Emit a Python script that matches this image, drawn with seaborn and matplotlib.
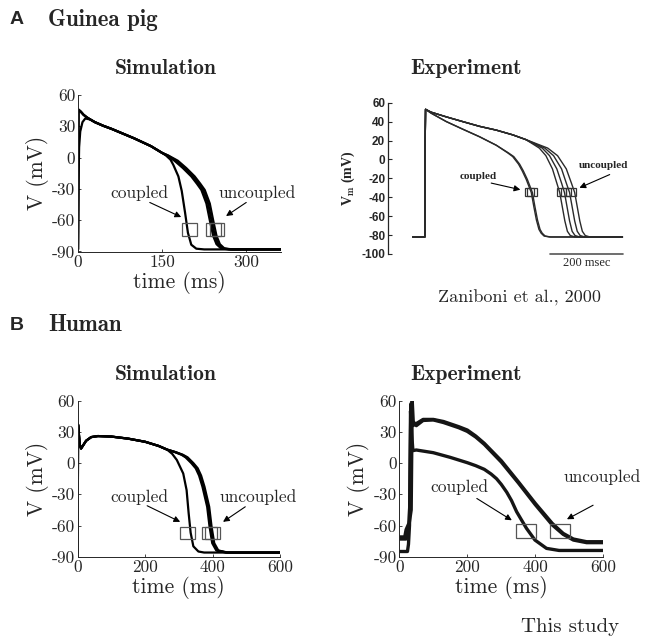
import numpy as np
import pandas as pd
import matplotlib
matplotlib.use("Agg")
import matplotlib.pyplot as plt
from matplotlib.patches import Rectangle
import seaborn as sns

sns.set_theme(style="ticks")
plt.rcParams["font.family"] = ["cmr10", "DejaVu Serif"]
plt.rcParams["axes.unicode_minus"] = False
plt.rcParams["mathtext.fontset"] = "cm"

# ---------------- data ----------------
# A, guinea pig simulation (ms, mV)
gp_sim_plateau_t = [22, 30, 45, 60, 80, 100, 130, 150]
gp_sim_plateau_v = [36.5, 34, 30.5, 27.5, 23, 18.5, 11, 4.5]
gp_sim_c_up_t = [0, 1, 2, 4, 8, 13]
gp_sim_c_up_v = [-88, -20, 10, 25, 34, 37.5]
gp_sim_u_up_t = [0, 0.8, 5, 10, 16]
gp_sim_u_up_v = [-88, 46, 44, 41, 38.5]
gp_sim_c_tail_t = [157, 165, 170, 179, 185, 191, 196, 202, 211, 225, 362]
gp_sim_c_tail_v = [2, -2, -7, -18, -32, -53, -72, -83.5, -87.3, -88, -88]
gp_sim_u_tail_v = [2, -3, -10, -18, -25, -31, -44, -60, -75, -83, -87, -88, -88]
gp_sim_u1_tail_t = [159, 172, 187, 202, 212, 220, 229, 235, 241, 247, 255, 269, 362]
gp_sim_u2_tail_t = [160, 175, 190, 205, 215, 223, 232, 238, 244, 250, 258, 272, 362]
gp_sim_u3_tail_t = [161, 178, 193, 208, 218, 226, 235, 241, 247, 253, 261, 275, 362]
gp_sim_box_c = [199]
gp_sim_box_u = [242, 248]
gp_sim_box_v = -69

# A, guinea pig experiment (Zaniboni et al.), ms from trace start
gp_exp_c_v = [-82, -82, 20, 53, 49, 40, 32, 24, 15, 7, 3, -5, -12, -21, -28, -35,
              -50, -64, -74, -78, -81, -82, -82]
gp_exp_c1_t = [0, 33, 34, 35, 50, 92, 137, 183, 229, 260, 274, 290, 300, 311, 318,
               325, 332, 339, 346, 352, 360, 375, 575]
gp_exp_c2_t = [0, 33, 34, 35, 50, 92, 137, 183, 229, 262, 277, 293, 303, 314, 321,
               328, 335, 342, 349, 355, 363, 378, 575]
gp_exp_u_plateau_t = [0, 33, 34, 35, 50, 92, 137, 183, 229, 274, 310]
gp_exp_u_plateau_v = [-82, -82, 20, 53, 50, 45, 40, 35, 31, 26, 21]
gp_exp_u_tail_v = [12, 4, -10, -25, -35, -50, -65, -76, -80.5, -82, -82]
gp_exp_u1_tail_t = [347, 365, 383, 395, 403, 410, 417, 424, 432, 445, 575]
gp_exp_u2_tail_t = [355, 375, 395, 408, 416, 423, 430, 437, 445, 458, 575]
gp_exp_u3_tail_t = [362, 386, 408, 421, 430, 437, 444, 451, 459, 472, 575]
gp_exp_u4_tail_t = [370, 397, 421, 435, 444, 451, 458, 465, 473, 486, 575]
gp_exp_box_c = [320, 326]
gp_exp_box_u = [408, 421, 434]
gp_exp_box_v = -34

# B, human simulation
hu_sim_plateau_t = [0, 1, 3, 6, 10, 16, 25, 40, 60, 100, 150, 200, 240, 265]
hu_sim_plateau_v = [-86, 37, 30, 18, 14, 17, 21.5, 25, 26, 25.5, 23.5, 20.5, 16.5, 13]
hu_sim_c_tail_t = [280, 294, 313, 323, 329, 335, 343, 358, 375, 600]
hu_sim_c_tail_v = [9, 3, -10, -26, -48, -67, -80, -85, -86, -86]
hu_sim_u_tail_v = [10.5, 8, 5.5, 0, -5, -12, -22.7, -42, -61, -77, -84, -86, -86]
hu_sim_u1_tail_t = [289, 308, 320, 337, 350, 360, 370, 384, 391, 399, 411, 439, 600]
hu_sim_u2_tail_t = [290, 310, 323, 340, 353, 363, 373, 387, 394, 402, 414, 442, 600]
hu_sim_u3_tail_t = [291, 312, 326, 343, 356, 366, 376, 390, 397, 405, 417, 445, 600]
hu_sim_box_c = [326]
hu_sim_box_u = [390, 400]
hu_sim_box_v = -67

# B, human experiment (this study)
hu_exp_c_t = [0, 24, 27, 30, 33, 36, 40, 50, 100, 150, 200, 225, 250, 270, 286, 300,
              316, 330, 345, 360, 374, 399, 433, 470, 600]
hu_exp_c_v = [-85, -85, -78, -60, 50, 30, 12, 12.6, 10, 5.5, 0.4, -2.5, -6, -10.5,
              -15, -20.5, -28, -36, -46.7, -55, -62.7, -74, -82, -84, -84]
hu_exp_u1_t = [0, 16, 20, 28, 31, 34, 37, 40, 50, 70, 100, 130, 175, 200, 225, 250,
               300, 350, 400, 450, 482, 512, 551, 600]
hu_exp_u1_v = [-71, -71, -64, -58, -40, 57, 45, 36, 38, 42, 42, 40, 35, 31.8, 26, 19,
               2.3, -17.9, -38.7, -58, -67.6, -73, -75.6, -75.6]
hu_exp_u2_t = [0, 20, 26, 35, 38, 41, 50, 70, 100, 130, 175, 200, 225, 250, 300, 350,
               400, 450, 482, 512, 551, 600]
hu_exp_u2_v = [-73, -73, -65, -45, 60, 40, 36, 41, 41.5, 39, 34, 30.5, 25, 18, 1, -19,
               -40, -59.5, -68.5, -74, -76.5, -76.5]
hu_exp_box_c = [372.5]
hu_exp_box_u = [473.5]
hu_exp_box_v = -65.6

W, H = 646, 639
fig = plt.figure(figsize=(W / 100, H / 100), dpi=100)


def add_ax(l, t, r, b):
    return fig.add_axes([l / W, 1 - b / H, (r - l) / W, (b - t) / H])


def traces_df(*traces):
    rows = []
    for name, t, v in traces:
        rows.append(pd.DataFrame({"t": t, "v": v, "trace": name}))
    return pd.concat(rows, ignore_index=True)


def draw(ax, df, lw, color="black"):
    sns.lineplot(data=df, x="t", y="v", units="trace", estimator=None, sort=False,
                 color=color, lw=lw, ax=ax, legend=False)


def boxes(ax, centers, v, w, h, color="#555555"):
    for c in centers:
        ax.add_patch(Rectangle((c - w / 2, v - h / 2), w, h, fill=False,
                               edgecolor=color, lw=0.9, zorder=5))


def sim_style(ax, xlim, xticks):
    ax.set_xlim(*xlim)
    ax.set_ylim(-90, 60)
    ax.set_xticks(xticks)
    ax.set_yticks([-90, -60, -30, 0, 30, 60])
    ax.tick_params(direction="in", length=2.5, width=0.6, labelsize=12.5, pad=2)
    sns.despine(ax=ax)
    for s in ["left", "bottom"]:
        ax.spines[s].set_linewidth(0.7)
    ax.set_xlabel("time (ms)", fontsize=15.5, labelpad=1)
    ax.set_ylabel("V (mV)", fontsize=15.5, labelpad=2)


def note(ax, text, xy, xytext, textpos, fs=12.5, family=None, weight="normal"):
    ax.annotate("", xy=xy, xytext=xytext,
                arrowprops=dict(arrowstyle="-|>", color="black", lw=0.8,
                                mutation_scale=9, shrinkA=0, shrinkB=0),
                annotation_clip=False)
    kw = {}
    if family:
        kw["family"] = family
    ax.text(textpos[0], textpos[1], text, ha="center", va="center", fontsize=fs,
            weight=weight, clip_on=False, **kw)


# ---- A simulation ----
ax = add_ax(78, 95, 281, 251.5)
df = traces_df(
    ("c", gp_sim_c_up_t + gp_sim_plateau_t + gp_sim_c_tail_t,
     gp_sim_c_up_v + gp_sim_plateau_v + gp_sim_c_tail_v),
    ("u1", gp_sim_u_up_t + gp_sim_plateau_t + gp_sim_u1_tail_t,
     gp_sim_u_up_v + gp_sim_plateau_v + gp_sim_u_tail_v),
    ("u2", gp_sim_u_up_t + gp_sim_plateau_t + gp_sim_u2_tail_t,
     gp_sim_u_up_v + gp_sim_plateau_v + gp_sim_u_tail_v),
    ("u3", gp_sim_u_up_t + gp_sim_plateau_t + gp_sim_u3_tail_t,
     gp_sim_u_up_v + gp_sim_plateau_v + gp_sim_u_tail_v),
)
draw(ax, df, 1.6)
sim_style(ax, (0, 362), [0, 150, 300])
boxes(ax, gp_sim_box_c + gp_sim_box_u, gp_sim_box_v, 26, 12.5)
note(ax, "coupled", (184, -57), (128, -43), (110, -34))
note(ax, "uncoupled", (264, -56), (300, -43), (320, -34))

# ---- A experiment (scanned-style) ----
ax = add_ax(388, 102.7, 625, 254)
df = traces_df(
    ("c1", gp_exp_c1_t, gp_exp_c_v),
    ("c2", gp_exp_c2_t, gp_exp_c_v),
    ("u1", gp_exp_u_plateau_t + gp_exp_u1_tail_t, gp_exp_u_plateau_v + gp_exp_u_tail_v),
    ("u2", gp_exp_u_plateau_t + gp_exp_u2_tail_t, gp_exp_u_plateau_v + gp_exp_u_tail_v),
    ("u3", gp_exp_u_plateau_t + gp_exp_u3_tail_t, gp_exp_u_plateau_v + gp_exp_u_tail_v),
    ("u4", gp_exp_u_plateau_t + gp_exp_u4_tail_t, gp_exp_u_plateau_v + gp_exp_u_tail_v),
)
draw(ax, df, 1.0, color="#2a2a2a")
ax.set_xlim(-68, 582)
ax.set_ylim(-100, 60)
ax.set_yticks(range(-100, 61, 20))
ax.set_xticks([])
ax.set_xlabel("")
ax.set_ylabel("V$_\\mathbf{m}$ (mV)", fontsize=10, weight="bold",
              family="Liberation Serif", labelpad=3)
sns.despine(ax=ax, bottom=True)
ax.spines["left"].set_linewidth(0.9)
ax.tick_params(axis="y", direction="in", length=3, width=0.8, labelsize=8.5, pad=2)
for lab in ax.get_yticklabels():
    lab.set_family("Liberation Sans")
    lab.set_weight("bold")
boxes(ax, gp_exp_box_c + gp_exp_box_u, gp_exp_box_v, 27, 8.5, color="#333333")
note(ax, "coupled", (295, -32), (215, -25), (178, -18), fs=8,
     family="Liberation Serif", weight="bold")
note(ax, "uncoupled", (457, -30), (540, -16), (523, -6), fs=8,
     family="Liberation Serif", weight="bold")
ax.plot([376, 576], [-100, -100], color="#555555", lw=1.2, clip_on=False)
ax.text(476, -110, "200 msec", ha="center", va="center", fontsize=9,
        family="Liberation Serif")

# ---- B simulation ----
ax = add_ax(77.7, 400.7, 280, 556.7)
df = traces_df(
    ("c", hu_sim_plateau_t + hu_sim_c_tail_t, hu_sim_plateau_v + hu_sim_c_tail_v),
    ("u1", hu_sim_plateau_t + hu_sim_u1_tail_t, hu_sim_plateau_v + hu_sim_u_tail_v),
    ("u2", hu_sim_plateau_t + hu_sim_u2_tail_t, hu_sim_plateau_v + hu_sim_u_tail_v),
    ("u3", hu_sim_plateau_t + hu_sim_u3_tail_t, hu_sim_plateau_v + hu_sim_u_tail_v),
)
draw(ax, df, 1.6)
sim_style(ax, (0, 600), [0, 200, 400, 600])
boxes(ax, hu_sim_box_c + hu_sim_box_u, hu_sim_box_v, 45, 12)
note(ax, "coupled", (304, -56.5), (206, -41), (182, -32.6))
note(ax, "uncoupled", (431, -56.5), (497, -42), (535, -32.6))

# ---- B experiment ----
ax = add_ax(399.3, 400.7, 603.3, 556.7)
df = traces_df(
    ("c", hu_exp_c_t, hu_exp_c_v),
    ("u1", hu_exp_u1_t, hu_exp_u1_v),
    ("u2", hu_exp_u2_t, hu_exp_u2_v),
)
draw(ax, df, 2.4, color="#151515")
sim_style(ax, (0, 600), [0, 200, 400, 600])
boxes(ax, hu_exp_box_c + hu_exp_box_u, hu_exp_box_v, 59, 13.4)
note(ax, "coupled", (331, -55), (228, -34), (176, -23))
note(ax, "uncoupled", (493, -54), (570, -40.5), (596, -13))

# ---- figure texts ----
def ftext(x, y, s, **kw):
    fig.text(x / W, 1 - y / H, s, **kw)


ftext(17, 20, "A", fontsize=14, weight="bold", family="Liberation Sans",
      ha="center", va="center")
ftext(48, 20, "Guinea pig", fontsize=16.5, family="cmb10", ha="left", va="center")
ftext(17, 325, "B", fontsize=14, weight="bold", family="Liberation Sans",
      ha="center", va="center")
ftext(48, 325, "Human", fontsize=16.5, family="cmb10", ha="left", va="center")
for y in (68, 375):
    ftext(166, y, "Simulation", fontsize=15.5, family="cmb10", ha="center", va="center")
    ftext(466, y, "Experiment", fontsize=15.5, family="cmb10", ha="center", va="center")
ftext(520, 298, "Zaniboni et al., 2000", fontsize=13, ha="center", va="center")
ftext(570, 627, "This study", fontsize=15, ha="center", va="center")

fig.savefig("out.png", dpi=100)
